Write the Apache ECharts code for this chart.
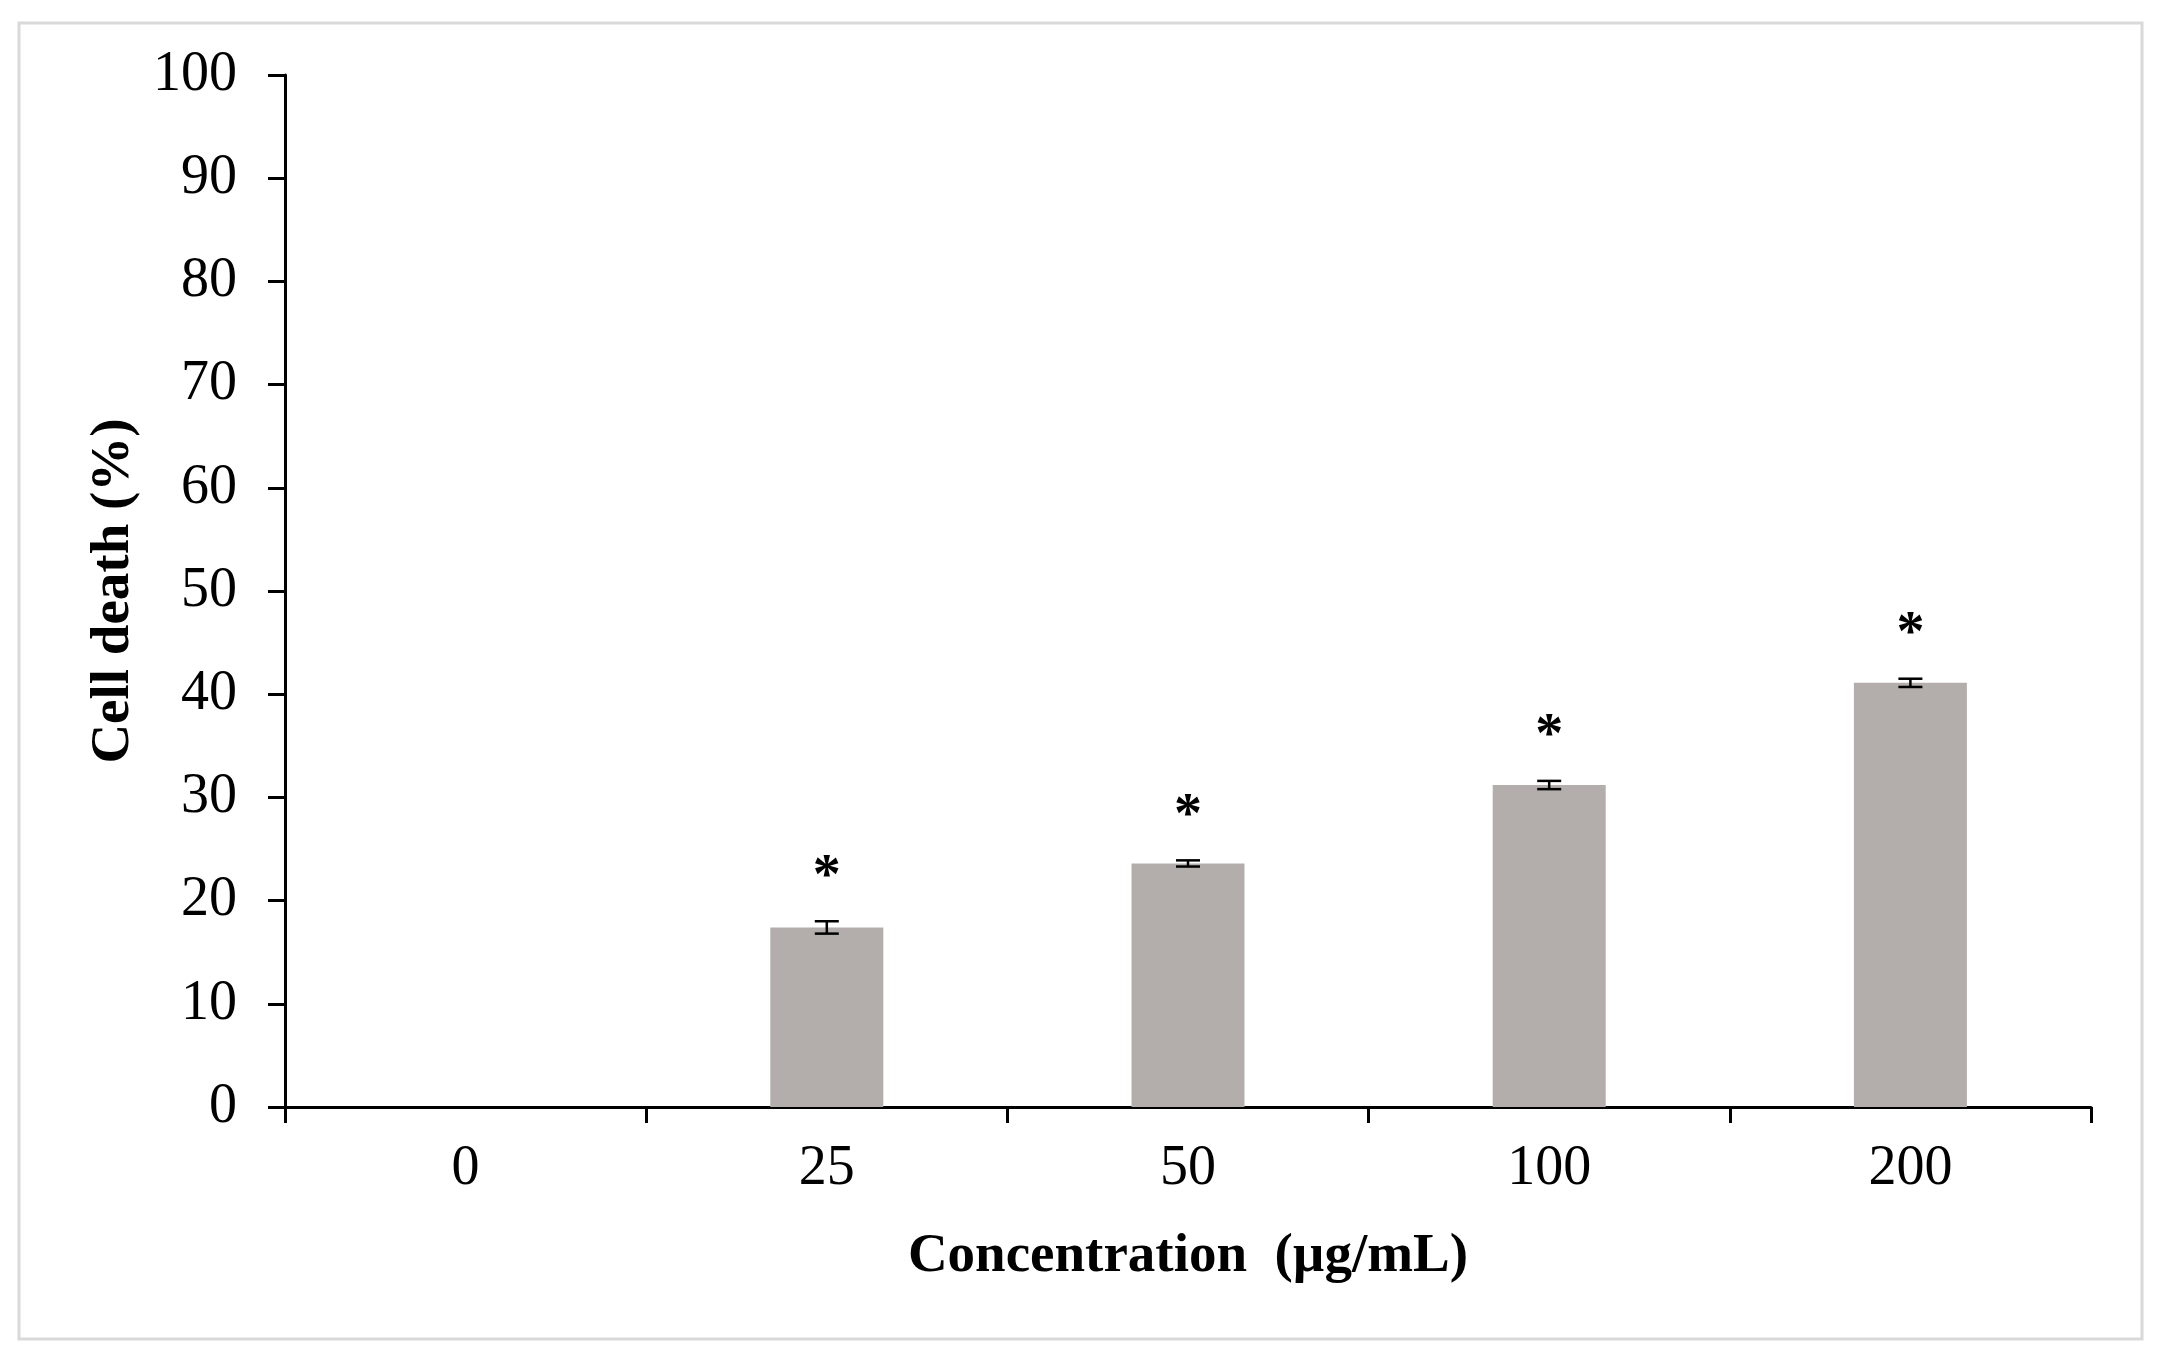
<!DOCTYPE html>
<html>
<head>
<meta charset="utf-8">
<script src="https://cdn.jsdelivr.net/npm/echarts@6/dist/echarts.min.js"></script>
<style>
html,body{margin:0;padding:0;background:#fff;}
#chart{width:2164px;height:1364px;}
</style>
</head>
<body>
<div id="chart"></div>
<script>
var categories = ['0', '25', '50', '100', '200'];
var cellDeath = [0, 17.4, 23.6, 31.2, 41.1];
var errors = [0, 0.6, 0.3, 0.4, 0.4];
var significant = [false, true, true, true, true];
var yTicks = { min: 0, max: 100, interval: 10 };

var chart = echarts.init(document.getElementById('chart'));
var serif = '"Liberation Serif", "Times New Roman", serif';

var errData = categories.map(function (c, i) {
  return [i, cellDeath[i], errors[i], significant[i] ? 1 : 0];
});

chart.setOption({
  backgroundColor: '#ffffff',
  animation: false,
  graphic: [{
    type: 'rect',
    shape: { x: 19, y: 23, width: 2123, height: 1316 },
    style: { fill: 'none', stroke: '#d9d9d9', lineWidth: 3 },
    silent: true
  }],
  grid: { left: 285, right: 73, top: 75, bottom: 257, containLabel: false },
  xAxis: {
    type: 'category',
    data: categories,
    boundaryGap: true,
    name: 'Concentration  (µg/mL)',
    nameLocation: 'middle',
    nameGap: 122,
    nameTextStyle: { fontFamily: serif, fontWeight: 'bold', fontSize: 55, color: '#000' },
    axisLine: { show: true, lineStyle: { color: '#000', width: 3 } },
    axisTick: { show: true, interval: 0, length: 16, lineStyle: { color: '#000', width: 3 } },
    axisLabel: { fontFamily: serif, fontSize: 56, color: '#000', margin: 34, interval: 0 },
    splitLine: { show: false }
  },
  yAxis: {
    type: 'value',
    min: yTicks.min,
    max: yTicks.max,
    interval: yTicks.interval,
    name: 'Cell death (%)',
    nameLocation: 'middle',
    nameGap: 144,
    nameRotate: 90,
    nameTextStyle: { fontFamily: serif, fontWeight: 'bold', fontSize: 55, color: '#000' },
    axisLine: { show: true, lineStyle: { color: '#000', width: 3 } },
    axisTick: { show: true, length: 17, lineStyle: { color: '#000', width: 3 } },
    axisLabel: { fontFamily: serif, fontSize: 56, color: '#000', margin: 48 },
    splitLine: { show: false }
  },
  series: [{
    type: 'bar',
    data: cellDeath,
    barWidth: 113,
    itemStyle: { color: '#b3aeab' },
    z: 2
  }, {
    type: 'custom',
    data: errData,
    z: 5,
    renderItem: function (params, api) {
      var i = api.value(0), v = api.value(1), e = api.value(2), sig = api.value(3);
      var children = [];
      if (e > 0) {
        var top = api.coord([i, v + e]);
        var bot = api.coord([i, v - e]);
        var hw = 12;
        var ls = { stroke: '#000', lineWidth: 2.5 };
        children.push({ type: 'line', shape: { x1: top[0], y1: top[1], x2: bot[0], y2: bot[1] }, style: ls });
        children.push({ type: 'line', shape: { x1: top[0] - hw, y1: top[1], x2: top[0] + hw, y2: top[1] }, style: ls });
        children.push({ type: 'line', shape: { x1: bot[0] - hw, y1: bot[1], x2: bot[0] + hw, y2: bot[1] }, style: ls });
      }
      if (sig) {
        var p = api.coord([i, v + e]);
        children.push({
          type: 'text',
          style: {
            x: p[0], y: p[1] - 55 + 12,
            text: '*',
            fill: '#000',
            font: 'bold 56px ' + serif,
            textAlign: 'center',
            textVerticalAlign: 'middle'
          }
        });
      }
      return { type: 'group', children: children };
    }
  }]
});
</script>
</body>
</html>
